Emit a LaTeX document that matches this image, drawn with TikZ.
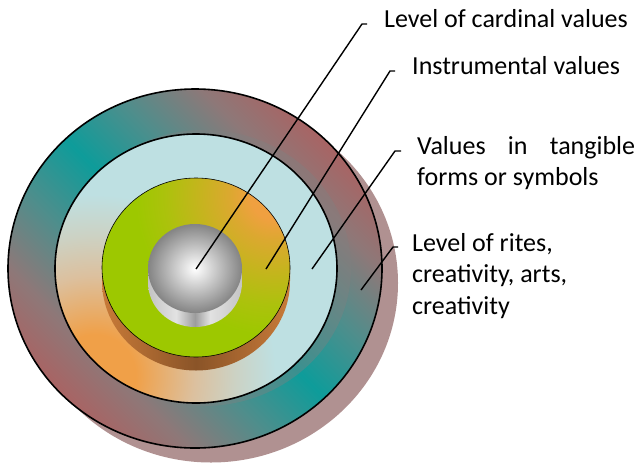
\documentclass[tikz,border=0pt]{standalone}
\usepackage{fontspec}
\setmainfont{Carlito}
\definecolor{mauve}{HTML}{A86464}
\definecolor{mauvegrey}{HTML}{8E7878}
\definecolor{tealgrey}{HTML}{4E8E8C}
\definecolor{ringteal}{HTML}{0E9C9A}
\definecolor{shadowc}{HTML}{B09191}
\definecolor{midorange}{HTML}{F0A048}
\definecolor{midtan}{HTML}{DCC09E}
\definecolor{midgrey}{HTML}{CCD2C4}
\definecolor{midcyan}{HTML}{BEE0E2}
\definecolor{gorange}{HTML}{F0A040}
\definecolor{gamber}{HTML}{DCA830}
\definecolor{golive}{HTML}{C6B41E}
\definecolor{gyellowgreen}{HTML}{ACC20C}
\definecolor{ggreen}{HTML}{9DC800}
\definecolor{sideorange}{HTML}{C87A38}
\definecolor{sidebrown}{HTML}{8A5428}
\definecolor{greyA}{HTML}{C4C4C4}
\definecolor{greyB}{HTML}{E2E2E2}
\definecolor{greyC}{HTML}{9C9C9C}
\definecolor{topgrey}{HTML}{848484}
\pgfdeclarehorizontalshading{outerring}{100bp}{color(0bp)=(mauve); color(25bp)=(mauve); color(32bp)=(mauvegrey); color(41bp)=(tealgrey); color(50bp)=(ringteal); color(59bp)=(tealgrey); color(68bp)=(mauvegrey); color(75bp)=(mauve); color(100bp)=(mauve)}
\pgfdeclareradialshading{middisc}{\pgfpoint{0bp}{0bp}}{color(0bp)=(midorange); color(2.9bp)=(midorange); color(7.1bp)=(midtan); color(10bp)=(midgrey); color(12.9bp)=(midcyan); color(50bp)=(midcyan)}
\pgfdeclareradialshading{greentop}{\pgfpoint{0bp}{0bp}}{color(0bp)=(gorange); color(2.8bp)=(gorange); color(5.1bp)=(gamber); color(8.5bp)=(golive); color(12.5bp)=(gyellowgreen); color(15.9bp)=(ggreen); color(50bp)=(ggreen)}
\pgfdeclarehorizontalshading{greenside}{100bp}{color(0bp)=(sideorange); color(25bp)=(sideorange); color(50bp)=(sidebrown); color(75bp)=(sideorange); color(100bp)=(sideorange)}
\pgfdeclarehorizontalshading{greyside}{100bp}{color(0bp)=(greyA); color(25bp)=(greyA); color(40bp)=(greyB); color(50bp)=(greyC); color(58bp)=(greyB); color(75bp)=(greyA); color(100bp)=(greyA)}
\tikzset{
  ring/.style={draw=black, line width=1.6pt},
  leader/.style={draw=black, line width=1.4pt},
  lbl/.style={font=\fontsize{26}{31.5}\selectfont, inner sep=0pt, text=black},
}
\begin{document}
\begin{tikzpicture}[x=1pt,y=-1pt]
\useasboundingbox (0,0) rectangle (639,464);
% shadow of whole disc
\fill[shadowc] (211,283) ellipse [x radius=187, y radius=179.5];
% outer ring
\shade[shading=outerring, shading angle=45] (195,268.5) ellipse [x radius=187, y radius=179.5];
\draw[ring] (195,268.5) ellipse [x radius=187, y radius=179.5];
% shadow of middle disc
\fill[gray, opacity=0.4] (204,268) ellipse [x radius=147, y radius=138];
% middle disc
\begin{scope}
  \clip (196,268.5) ellipse [x radius=141, y radius=134.5];
  \shade[shading=middisc] (95,375) circle [radius=350];
\end{scope}
\draw[ring] (196,268.5) ellipse [x radius=141, y radius=134.5];
% green disc side
\shade[shading=greenside] (102,267.5) -- (102,281) arc[start angle=180, end angle=0, x radius=94, y radius=89.5] -- (290,267.5) -- cycle;
% green disc top
\begin{scope}
  \clip (196,267.5) ellipse [x radius=94, y radius=89.5];
  \shade[shading=greentop] (275,195) circle [radius=220];
\end{scope}
\draw[black, line width=0.6pt] (196,267.5) ellipse [x radius=94, y radius=89.5];
% grey cylinder side
\shade[shading=greyside] (148,268.5) -- (148,282.5) arc[start angle=180, end angle=0, x radius=47, y radius=44.5] -- (242,268.5) -- cycle;
% grey cylinder top
\shade[inner color=white, outer color=topgrey] (195,268.5) ellipse [x radius=47, y radius=44.5];

% connectors
\coordinate (s1) at (196,269);
\coordinate (k1) at (362,24);
\coordinate (e1) at (367,24);
\coordinate (s2) at (266,269);
\coordinate (k2) at (390,71);
\coordinate (e2) at (395,71);
\coordinate (s3) at (312,269);
\coordinate (k3) at (395,151);
\coordinate (e3) at (401,151);
\coordinate (s4) at (361,290);
\coordinate (k4) at (393,247);
\coordinate (e4) at (398,247);
\draw[leader] (s1) -- (k1) -- (e1);
\draw[leader] (s2) -- (k2) -- (e2);
\draw[leader] (s3) -- (k3) -- (e3);
\draw[leader] (s4) -- (k4) -- (e4);

% labels
\node[lbl, anchor=base west] (t1) at (384,27) {Level of cardinal values};
\node[lbl, anchor=base west] (t2) at (412,74) {Instrumental values};
\node[lbl, anchor=base west, text width=218pt, align=justify] (t3) at (417,154) {Values in tangible forms or symbols};
\node[lbl, anchor=base west, align=left] (t4) at (412,314) {Level of rites,\\creativity, arts,\\creativity};
\end{tikzpicture}
\end{document}
